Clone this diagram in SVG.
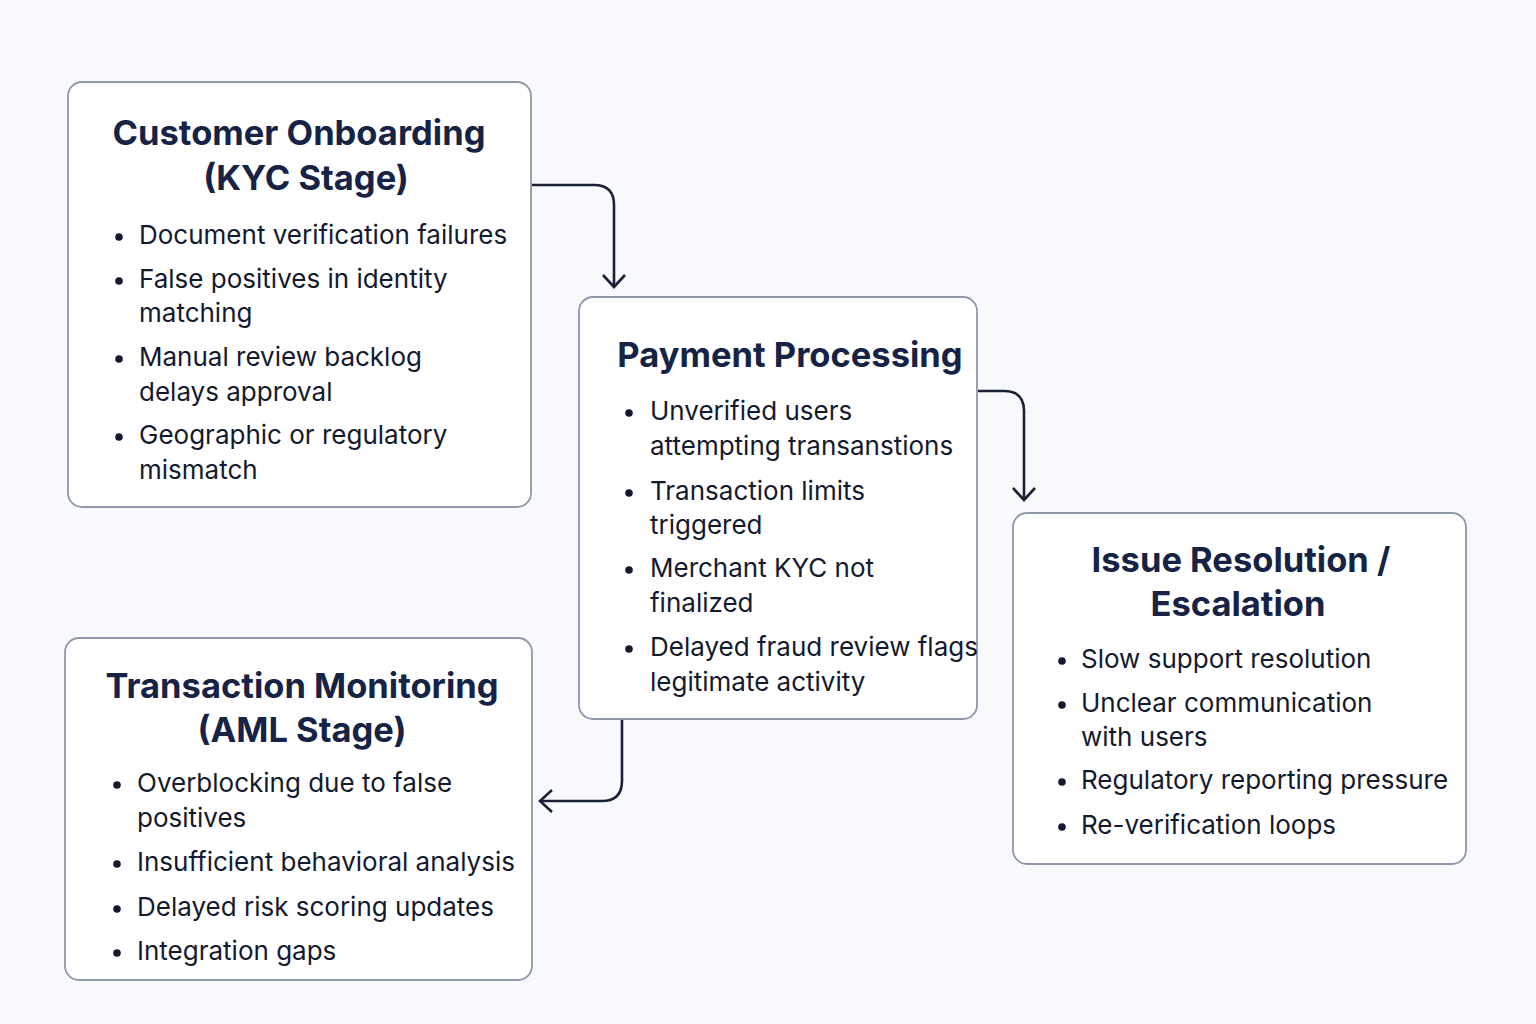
<svg xmlns="http://www.w3.org/2000/svg" width="1536" height="1024" viewBox="0 0 1536 1024">
<style>
.box{fill:#ffffff;stroke:#8e98aa;stroke-width:1.8}
.title{font-family:Inter,"Noto Sans",sans-serif;font-size:34.5px;font-weight:700;fill:#172344;text-anchor:middle}
.item{font-family:Inter,"Noto Sans",sans-serif;font-size:26px;fill:#141a2e}
.dot{fill:#141a2e}
.conn{fill:none;stroke:#1a2036;stroke-width:2.6}
</style>
<defs>
<marker id="arr" viewBox="0 0 24 24" refX="20" refY="12" markerWidth="24" markerHeight="24" markerUnits="userSpaceOnUse" orient="auto">
<path d="M8,1 L20,12 L8,23" fill="none" stroke="#1a2036" stroke-width="2.6"/>
</marker>
</defs>
<rect width="1536" height="1024" fill="#f8f9fc"/>
<g id="connectors">
<path class="conn" d="M532,185 H594 Q614,185 614,205 V287" marker-end="url(#arr)"/>
<path class="conn" d="M978,391 H1004 Q1024,391 1024,411 V500" marker-end="url(#arr)"/>
<path class="conn" d="M622,720 V781 Q622,801 602,801 H540" marker-end="url(#arr)"/>
</g>
<g id="node-kyc">
<rect class="box" x="68" y="82" width="463" height="425" rx="14"/>
<text class="title" x="299" y="145">Customer Onboarding</text>
<text class="title" x="306" y="190">(KYC Stage)</text>
<circle class="dot" cx="119" cy="237" r="3.8"/>
<text class="item" x="139" y="244">Document verification failures</text>
<circle class="dot" cx="119" cy="281" r="3.8"/>
<text class="item" x="139" y="288">False positives in identity</text>
<text class="item" x="139" y="322">matching</text>
<circle class="dot" cx="119" cy="359" r="3.8"/>
<text class="item" x="139" y="366">Manual review backlog</text>
<text class="item" x="139" y="401">delays approval</text>
<circle class="dot" cx="119" cy="437" r="3.8"/>
<text class="item" x="139" y="444">Geographic or regulatory</text>
<text class="item" x="139" y="479">mismatch</text>
</g>
<g id="node-payment">
<rect class="box" x="579" y="297" width="398" height="422" rx="14"/>
<text class="title" x="790" y="367">Payment Processing</text>
<circle class="dot" cx="629" cy="413" r="3.8"/>
<text class="item" x="650" y="420">Unverified users</text>
<text class="item" x="650" y="455">attempting transanstions</text>
<circle class="dot" cx="629" cy="493" r="3.8"/>
<text class="item" x="650" y="500">Transaction limits</text>
<text class="item" x="650" y="534">triggered</text>
<circle class="dot" cx="629" cy="570" r="3.8"/>
<text class="item" x="650" y="577">Merchant KYC not</text>
<text class="item" x="650" y="612">finalized</text>
<circle class="dot" cx="629" cy="649" r="3.8"/>
<text class="item" x="650" y="656">Delayed fraud review flags</text>
<text class="item" x="650" y="691">legitimate activity</text>
</g>
<g id="node-issue">
<rect class="box" x="1013" y="513" width="453" height="351" rx="14"/>
<text class="title" x="1241" y="572">Issue Resolution /</text>
<text class="title" x="1238" y="616">Escalation</text>
<circle class="dot" cx="1062" cy="661" r="3.8"/>
<text class="item" x="1081" y="668">Slow support resolution</text>
<circle class="dot" cx="1062" cy="705" r="3.8"/>
<text class="item" x="1081" y="712">Unclear communication</text>
<text class="item" x="1081" y="746">with users</text>
<circle class="dot" cx="1062" cy="782" r="3.8"/>
<text class="item" x="1081" y="789">Regulatory reporting pressure</text>
<circle class="dot" cx="1062" cy="827" r="3.8"/>
<text class="item" x="1081" y="834">Re-verification loops</text>
</g>
<g id="node-aml">
<rect class="box" x="65" y="638" width="467" height="342" rx="14"/>
<text class="title" x="302" y="698">Transaction Monitoring</text>
<text class="title" x="302" y="742">(AML Stage)</text>
<circle class="dot" cx="117" cy="785" r="3.8"/>
<text class="item" x="137" y="792">Overblocking due to false</text>
<text class="item" x="137" y="827">positives</text>
<circle class="dot" cx="117" cy="864" r="3.8"/>
<text class="item" x="137" y="871">Insufficient behavioral analysis</text>
<circle class="dot" cx="117" cy="909" r="3.8"/>
<text class="item" x="137" y="916">Delayed risk scoring updates</text>
<circle class="dot" cx="117" cy="953" r="3.8"/>
<text class="item" x="137" y="960">Integration gaps</text>
</g>
</svg>
